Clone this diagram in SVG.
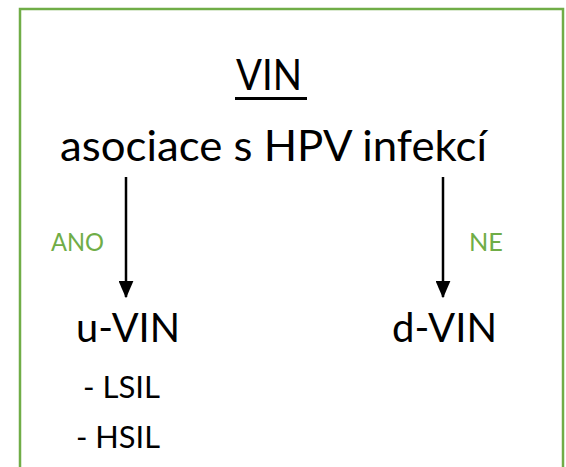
<svg xmlns="http://www.w3.org/2000/svg" width="566" height="467" viewBox="0 0 566 467">
  <defs>
    <style>
      .t { font-family: Lato, "Liberation Sans", sans-serif; fill: #000; }
      .g { font-family: Lato, "Liberation Sans", sans-serif; fill: #70AD47; }
      .conn { stroke: #000; stroke-width: 2.5; fill: none; }
    </style>
    <marker id="arr" markerWidth="7" markerHeight="6" refX="6.5" refY="3" orient="auto" markerUnits="strokeWidth">
      <path d="M0,0 L7,3 L0,6 Z" fill="#000"/>
    </marker>
  </defs>
  <rect x="0" y="0" width="566" height="467" fill="#fff"/>
  <rect id="frame" x="20" y="9" width="543" height="470" fill="none" stroke="#70AD47" stroke-width="2.5"/>

  <g id="root">
    <text class="t" x="236" y="90" font-size="42" textLength="66" lengthAdjust="spacingAndGlyphs">VIN</text>
    <rect x="235" y="97" width="72" height="3" fill="#000"/>
    <text class="t" x="60" y="161" font-size="43" textLength="427" lengthAdjust="spacingAndGlyphs">asociace s HPV infekcí</text>
  </g>

  <g id="connectors">
    <line class="conn" x1="126" y1="177" x2="126" y2="297" marker-end="url(#arr)"/>
    <line class="conn" x1="443" y1="177" x2="443" y2="297" marker-end="url(#arr)"/>
    <text class="g" x="51" y="251" font-size="25" textLength="53" lengthAdjust="spacingAndGlyphs">ANO</text>
    <text class="g" x="469" y="251" font-size="25" textLength="34" lengthAdjust="spacingAndGlyphs">NE</text>
  </g>

  <g id="u-vin">
    <text class="t" x="76" y="342" font-size="40" textLength="104" lengthAdjust="spacingAndGlyphs">u-VIN</text>
    <text class="t" x="83" y="398" font-size="31" textLength="77" lengthAdjust="spacingAndGlyphs">- LSIL</text>
    <text class="t" x="76" y="448" font-size="31" textLength="84" lengthAdjust="spacingAndGlyphs">- HSIL</text>
  </g>

  <g id="d-vin">
    <text class="t" x="392" y="342" font-size="40" textLength="105" lengthAdjust="spacingAndGlyphs">d-VIN</text>
  </g>
</svg>
